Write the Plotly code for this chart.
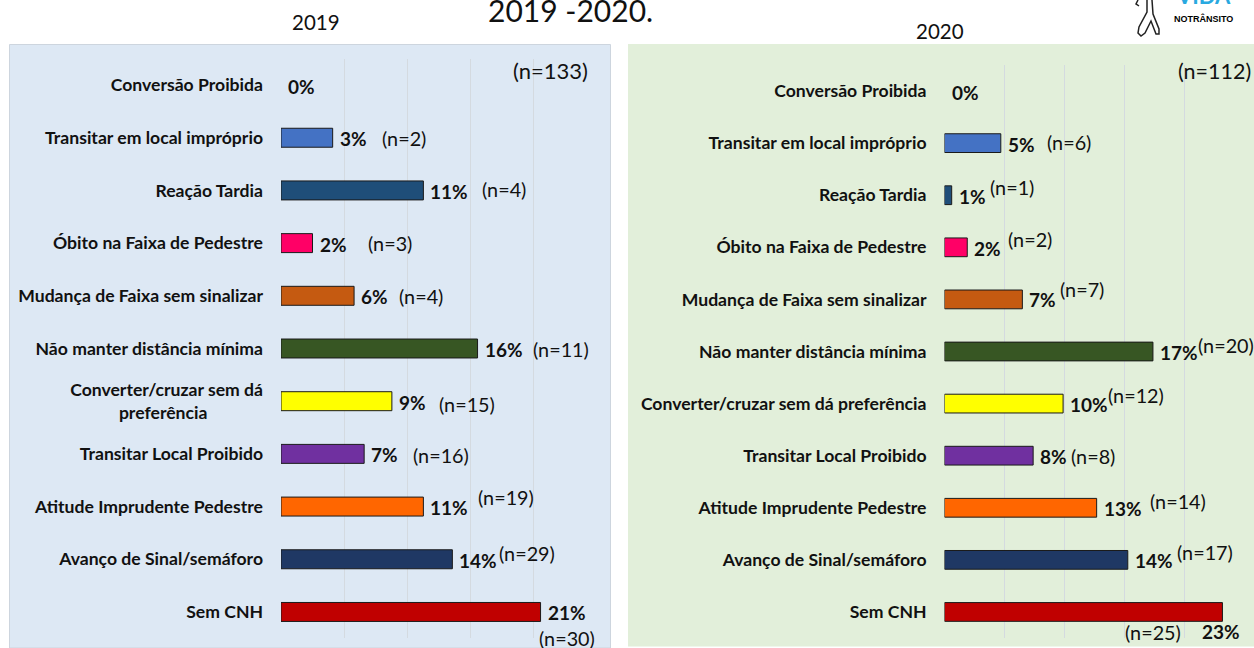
import plotly.graph_objects as go

categories = ["Conversão Proibida", "Transitar em local impróprio", "Reação Tardia",
              "Óbito na Faixa de Pedestre", "Mudança de Faixa sem sinalizar",
              "Não manter distância mínima", "Converter/cruzar sem dá preferência",
              "Transitar Local Proibido", "Atitude Imprudente Pedestre",
              "Avanço de Sinal/semáforo", "Sem CNH"]
labels_2019 = list(categories)
labels_2019[6] = "Converter/cruzar sem dá<br>preferência" + "\u00a0" * 13
labels_2020 = list(categories)

bars_2019 = [0, 4.1, 11.3, 2.5, 5.8, 15.6, 8.8, 6.6, 11.3, 13.6, 20.6]
bars_2020 = [0, 4.7, 0.6, 1.9, 6.5, 17.4, 9.9, 7.4, 12.7, 15.3, 23.2]
pct_2019 = ["0%", "3%", "11%", "2%", "6%", "16%", "9%", "7%", "11%", "14%", "21%"]
pct_2020 = ["0%", "5%", "1%", "2%", "7%", "17%", "10%", "8%", "13%", "14%", "23%"]
n_2019 = [None, "(n=2)", "(n=4)", "(n=3)", "(n=4)", "(n=11)", "(n=15)", "(n=16)", "(n=19)", "(n=29)", "(n=30)"]
n_2020 = [None, "(n=6)", "(n=1)", "(n=2)", "(n=7)", "(n=20)", "(n=12)", "(n=8)", "(n=14)", "(n=17)", "(n=25)"]

colors = ["#4472C4", "#4472C4", "#1F4E79", "#FF0066", "#C55A11", "#375623",
          "#FFFF00", "#7030A0", "#FF6600", "#1F3864", "#C00000"]

# label placement, pixels from the end of each bar
n_dx_2019 = [0, 49, 59, 55, 45, 55, 47, 49, 55, 47, -2]
n_dy_2019 = [0, 0, 1, 0, 0, 0, -3, -1, 10, 6, -26]
n_dx_2020 = [0, 46, 38, 41, 38, 45, 45, 38, 53, 49, -97]
n_dy_2020 = [0, 1, 8, 8, 10, 7, 9, 0, 7, 8, -20]
pct_dx_2020 = [7, 7, 7, 7, 7, 7, 7, 7, 7, 7, -20]
pct_dy_2020 = [-1, -1, -1, -1, 0, -1, -1, -1, -1, -1, -20]

W, H = 1254, 648
SANS = "Lato, Carlito, sans-serif"
fig = go.Figure()


def dom_x(a, b):
    return [a / W, b / W]


def dom_y(top, bottom):
    return [1 - bottom / H, 1 - top / H]


def stroke(points):
    return " ".join(("M" if k == 0 else "L") + f"{px / W:.5f},{1 - py / H:.5f}"
                    for k, (px, py) in enumerate(points))


for i, (vals, labs) in enumerate([(bars_2019, labels_2019), (bars_2020, labels_2020)]):
    suffix = "" if i == 0 else "2"
    fig.add_trace(go.Bar(
        x=vals, y=categories, orientation="h", width=0.36,
        marker=dict(color=colors, line=dict(color="#1a1a1a", width=[0 if v == 0 else 1 for v in vals])),
        xaxis="x" + suffix, yaxis="y" + suffix, showlegend=False, hoverinfo="skip"))

axis_common = dict(range=[0, 25], dtick=5, showgrid=True, gridcolor="#D4DAE0", gridwidth=1,
                   zeroline=False, showticklabels=False, ticks="", showline=False)
y_common = dict(type="category", categoryorder="array", categoryarray=categories,
                range=[10.5, -0.5], showgrid=False, zeroline=False, ticks="",
                showline=False, tickmode="array", tickvals=categories,
                ticklabelstandoff=17,
                tickfont=dict(family=SANS, size=17.6, color="#111111", weight="bold"))

fig.update_layout(
    width=W, height=H, margin=dict(l=0, r=0, t=0, b=0), autosize=False,
    paper_bgcolor="white", plot_bgcolor="rgba(0,0,0,0)", bargap=0.64,
    font=dict(family=SANS, color="#111111"),
    xaxis=dict(domain=dom_x(281, 596), anchor="y", **axis_common),
    yaxis=dict(domain=dom_y(58.7, 638.3), anchor="x", ticktext=labels_2019, **y_common),
    xaxis2=dict(domain=dom_x(944.5, 1244), anchor="y2", **axis_common),
    yaxis2=dict(domain=dom_y(65, 638), anchor="x2", ticktext=labels_2020, **y_common),
    shapes=[
        dict(type="rect", xref="paper", yref="paper", layer="below",
             x0=9.5 / W, x1=610.5 / W, y0=0, y1=1 - 44.5 / H,
             fillcolor="#DDE8F4", line=dict(color="#CDD5DE", width=1)),
        dict(type="rect", xref="paper", yref="paper", layer="below",
             x0=628 / W, x1=1, y0=1 - 646.5 / H, y1=1 - 44 / H,
             fillcolor="#E2EFDA", line=dict(width=0)),
        dict(type="path", xref="paper", yref="paper", layer="above",
             path=stroke([(1138, 0), (1136, 4), (1139, 6)]),
             line=dict(color="#222222", width=1.5)),
        dict(type="path", xref="paper", yref="paper", layer="above",
             path=stroke([(1147, 0), (1147, 12), (1139, 27), (1138, 33), (1141, 36),
                          (1145, 33), (1151, 21), (1156, 34), (1159, 34), (1159, 29),
                          (1153, 14), (1152, 0)]),
             line=dict(color="#222222", width=1.5)),
    ])


def ann(x, y, text, size, bold=False, xref="x", yref="y", xshift=0, yshift=0,
        xanchor="left", family=SANS, color="#111111"):
    fig.add_annotation(x=x, y=y, text=text, xref=xref, yref=yref, xshift=xshift, yshift=yshift,
                       xanchor=xanchor, yanchor="middle", showarrow=False, borderpad=0, borderwidth=0,
                       font=dict(family=family, size=size, color=color, weight="bold" if bold else "normal"))


for k, c in enumerate(categories):
    ann(bars_2019[k], c, pct_2019[k], 19, True, xshift=7, yshift=-1)
    if n_2019[k]:
        ann(bars_2019[k], c, n_2019[k], 19.8, xshift=n_dx_2019[k], yshift=n_dy_2019[k])
    ann(bars_2020[k], c, pct_2020[k], 19, True, "x2", "y2", xshift=pct_dx_2020[k], yshift=pct_dy_2020[k])
    if n_2020[k]:
        ann(bars_2020[k], c, n_2020[k], 19.8, False, "x2", "y2", xshift=n_dx_2020[k], yshift=n_dy_2020[k])

ann(513 / W, 1 - 70 / H, "(n=133)", 22, xref="paper", yref="paper")
ann(1178 / W, 1 - 71 / H, "(n=112)", 21.5, xref="paper", yref="paper")
ann(316 / W, 1 - 22 / H, "2019", 20.5, xref="paper", yref="paper", xanchor="center")
ann(940 / W, 1 - 31 / H, "2020", 20.5, xref="paper", yref="paper", xanchor="center")
ann(570 / W, 1 - 10 / H, "2019 -2020.", 30, xref="paper", yref="paper", xanchor="center")
ann(1203 / W, 1 + 5 / H, "VIDA", 22, True, xref="paper", yref="paper", xanchor="center", color="#29A9E0")
ann(1203 / W, 1 - 18 / H, "NOTRÂNSITO", 9, True, xref="paper", yref="paper", xanchor="center",
    family="Liberation Sans, sans-serif", color="#000000")

fig.write_html("out.html", config={"displayModeBar": False},
               post_script="document.body.style.margin='0';")
